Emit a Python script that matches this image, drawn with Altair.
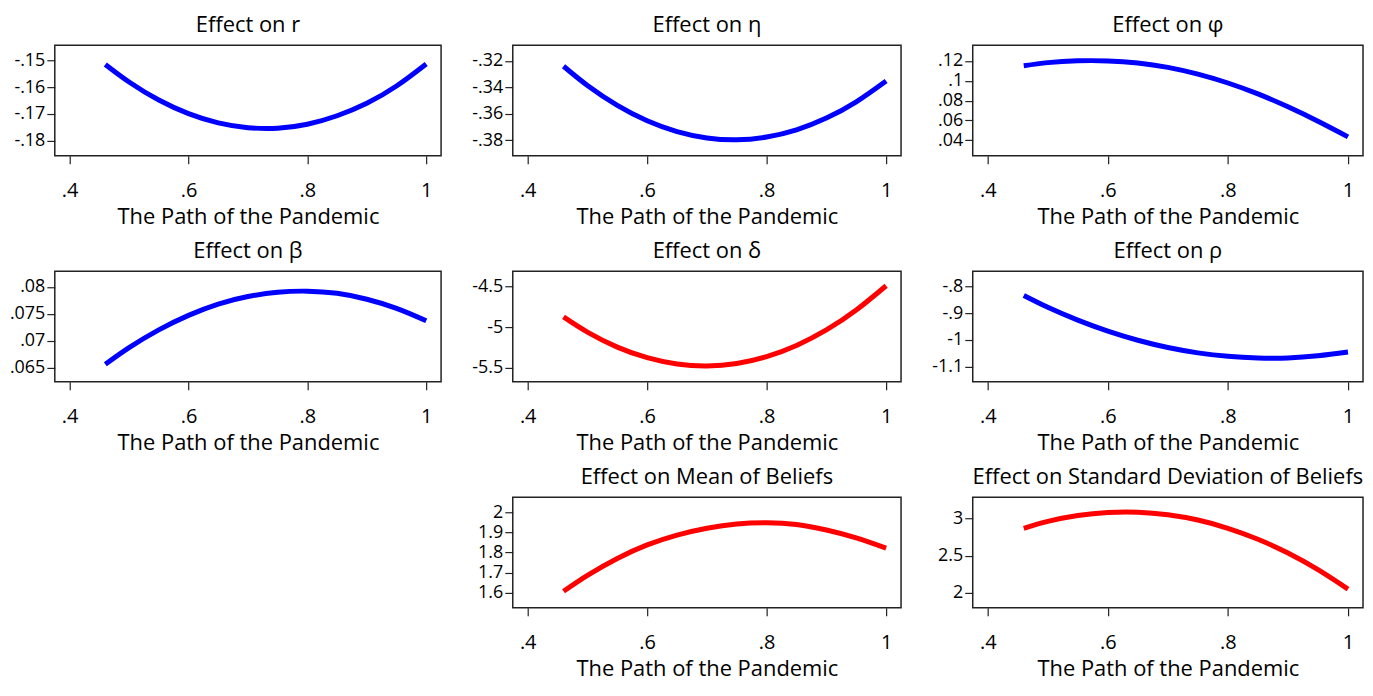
import altair as alt
import pandas as pd

FONT = "Open Sans"

x_vals = [0.46, 0.50, 0.55, 0.60, 0.65, 0.70, 0.75, 0.80, 0.85, 0.90, 0.95, 1.00]

y_r = [-0.1514, -0.1580, -0.1648, -0.1699, -0.1734, -0.1752, -0.1754, -0.1739, -0.1707, -0.1660, -0.1595, -0.1512]
y_eta = [-0.3241, -0.3386, -0.3536, -0.3652, -0.3734, -0.3782, -0.3796, -0.3775, -0.3721, -0.3632, -0.3509, -0.3352]
y_phi = [0.1150, 0.1182, 0.1200, 0.1199, 0.1178, 0.1134, 0.1066, 0.0977, 0.0867, 0.0737, 0.0592, 0.0435]
y_beta = [0.0656, 0.0687, 0.0720, 0.0747, 0.0768, 0.0782, 0.0790, 0.0792, 0.0788, 0.0777, 0.0760, 0.0737]
y_delta = [-4.873, -5.061, -5.247, -5.378, -5.456, -5.480, -5.450, -5.365, -5.227, -5.035, -4.789, -4.489]
y_rho = [-0.834, -0.878, -0.926, -0.967, -1.001, -1.028, -1.048, -1.061, -1.067, -1.067, -1.059, -1.045]
y_mean = [1.608, 1.687, 1.771, 1.838, 1.887, 1.921, 1.942, 1.948, 1.939, 1.912, 1.873, 1.822]
y_sd = [2.870, 2.962, 3.041, 3.083, 3.087, 3.053, 2.981, 2.870, 2.722, 2.536, 2.312, 2.050]

titles = ["Effect on r", "Effect on η", "Effect on φ", "Effect on β", "Effect on δ",
          "Effect on ρ", "Effect on Mean of Beliefs", "Effect on Standard Deviation of Beliefs"]
series = [y_r, y_eta, y_phi, y_beta, y_delta, y_rho, y_mean, y_sd]
colors = ["#0000ff", "#0000ff", "#0000ff", "#0000ff", "#ff0000", "#0000ff", "#ff0000", "#ff0000"]
y_domains = [[-0.1858, -0.1442], [-0.3917, -0.3083], [0.0244, 0.1356], [0.06233, 0.08289],
             [-5.676, -4.311], [-1.156, -0.744], [1.526, 2.074], [1.798, 3.287]]
y_ticks = [[-0.18, -0.17, -0.16, -0.15], [-0.38, -0.36, -0.34, -0.32], [0.04, 0.06, 0.08, 0.1, 0.12],
           [0.065, 0.07, 0.075, 0.08], [-5.5, -5, -4.5], [-1.1, -1, -0.9, -0.8],
           [1.6, 1.7, 1.8, 1.9, 2], [2, 2.5, 3]]
x_ticks = [0.4, 0.6, 0.8, 1]
x_domain = [0.375, 1.025]
x_title = "The Path of the Pandemic"

COL_W = [388, 390, 392]
H = 111
LABEL_EXPR = "replace(toString(datum.value), '0.', '.')"


def panel(i, col):
    df = pd.DataFrame({"x": x_vals, "y": series[i]})
    return alt.Chart(df).mark_line(color=colors[i], strokeWidth=5, interpolate="natural").encode(
        x=alt.X("x:Q", scale=alt.Scale(domain=x_domain, nice=False, zero=False),
                axis=alt.Axis(values=x_ticks, title=x_title, labelExpr=LABEL_EXPR,
                              tickSize=8, labelPadding=17, titlePadding=6, labelOverlap=False)),
        y=alt.Y("y:Q", scale=alt.Scale(domain=y_domains[i], nice=False, zero=False),
                axis=alt.Axis(values=y_ticks[i], title=None, labelExpr=LABEL_EXPR,
                              tickSize=8, labelPadding=2, labelOverlap=False)),
    ).properties(
        width=COL_W[col], height=H,
        title=alt.TitleParams(titles[i], fontSize=22, font=FONT, fontWeight="normal",
                              anchor="middle", frame="group", offset=8, color="black"),
    )


spacer = alt.Chart(pd.DataFrame({"x": [0], "y": [0]})).mark_point(opacity=0).encode(
    x=alt.X("x:Q", axis=None), y=alt.Y("y:Q", axis=None)
).properties(width=10, height=H, view=alt.ViewBackground(strokeOpacity=0))

cells = [panel(0, 0), panel(1, 1), panel(2, 2),
         panel(3, 0), panel(4, 1), panel(5, 2),
         spacer, panel(6, 1), panel(7, 2)]

chart = alt.concat(*cells, columns=3, spacing={"row": 116, "column": 72},
                   bounds="flush", align="each").properties(
    padding={"left": 0, "top": 4, "right": 0, "bottom": 0}
).configure_view(
    stroke="#222222", strokeWidth=1.5
).configure_axis(
    domain=False, grid=False, tickColor="#222222", tickWidth=1.2,
    labelFont=FONT, labelColor="black",
    titleFont=FONT, titleFontSize=22, titleFontWeight="normal", titleColor="black"
).configure_axisX(
    labelFontSize=20
).configure_axisY(
    labelFontSize=18
)

chart.save("out.html", embed_options={"renderer": "svg", "actions": False})
